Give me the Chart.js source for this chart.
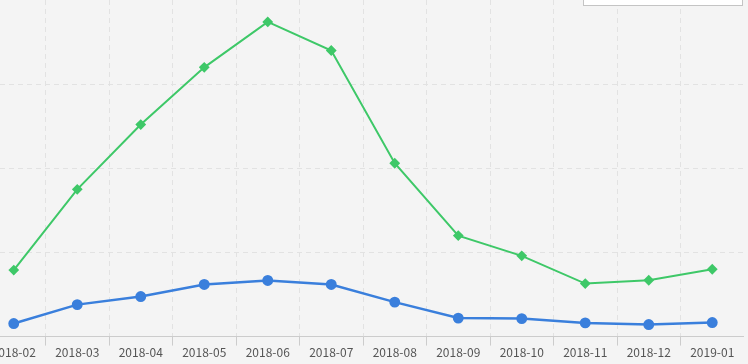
<!DOCTYPE html>
<html>
<head>
<meta charset="utf-8">
<script src="https://cdn.jsdelivr.net/npm/chart.js@4"></script>
<style>
  html, body { margin:0; padding:0; background:#f4f4f4; width:748px; height:364px; overflow:hidden; position:relative; }
  #wrap { position:absolute; left:-18px; top:0; width:762px; height:364px; }
  #legend { position:absolute; left:583px; top:-22px; width:158px; height:26px; background:#fff; border:1px solid #c4c4c4; font:12px "Noto Sans CJK JP", sans-serif; color:#333; }
</style>
</head>
<body>
<div id="wrap"><canvas id="c"></canvas></div>
<div id="legend"></div>
<script>
const categories = ["2018-02","2018-03","2018-04","2018-05","2018-06","2018-07","2018-08","2018-09","2018-10","2018-11","2018-12","2019-01"];
const seriesGreen = [79, 175, 252, 320, 374, 340, 206, 120, 96, 63, 67, 80];
const seriesBlue = [15.5, 38, 47.6, 62, 66.7, 62, 41, 22, 21.4, 16.3, 14.3, 16.7];
const yTicks = [0, 100, 200, 300, 400];

new Chart(document.getElementById('c'), {
  type: 'line',
  data: {
    labels: categories,
    datasets: [
      { label: 'A', data: seriesGreen, borderColor: 'rgb(62,200,104)', backgroundColor: 'rgb(62,200,104)',
        borderWidth: 2, pointStyle: 'rectRot', pointRadius: 4, pointHoverRadius: 4, tension: 0, fill: false },
      { label: 'B', data: seriesBlue, borderColor: 'rgb(58,127,220)', backgroundColor: 'rgb(58,127,220)',
        borderWidth: 2.5, pointStyle: 'circle', pointRadius: 4.2, pointHoverRadius: 4.2, tension: 0, fill: false }
    ]
  },
  options: {
    responsive: true,
    maintainAspectRatio: false,
    animation: false,
    layout: { autoPadding: false, padding: { left: 0, right: 0, top: 0, bottom: 4 } },
    plugins: { legend: { display: false }, tooltip: { enabled: false } },
    scales: {
      x: {
        offset: true,
        grid: { color: '#e2e2e2', offset: true, tickColor: '#cccccc', tickLength: 9, tickWidth: 1 },
        border: { display: true, color: '#cccccc', dash: [5, 4] },
        ticks: { color: '#555', font: { family: '"Noto Sans CJK JP"', size: 12 }, padding: 0, maxRotation: 0, autoSkip: false }
      },
      y: {
        min: yTicks[0], max: yTicks[yTicks.length - 1],
        afterBuildTicks: (s) => { s.ticks = yTicks.map(v => ({ value: v })); },
        grid: { color: (ctx) => (ctx.tick && ctx.tick.value === yTicks[yTicks.length - 1]) ? 'rgba(0,0,0,0)' : '#e2e2e2', drawTicks: false },
        border: { display: false, dash: [5, 4] },
        ticks: { display: false }
      }
    }
  }
});
</script>
</body>
</html>
